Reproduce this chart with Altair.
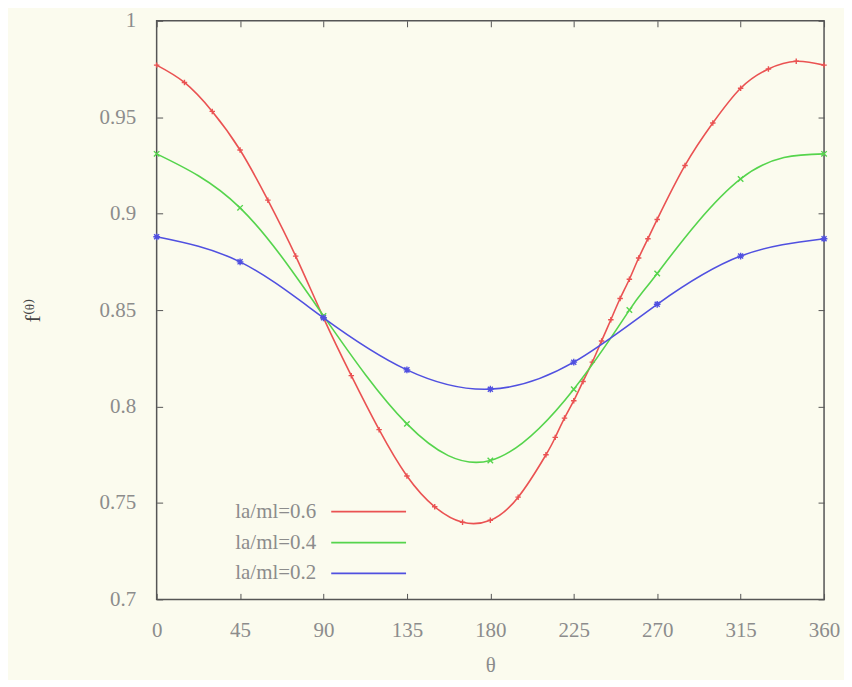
import altair as alt
import pandas as pd

# ---- data ----
theta_red = [0, 15, 30, 45, 60, 75, 90, 105, 120, 135, 150, 165, 180, 195, 210,
             215, 220, 225, 230, 235, 240, 245, 250, 255, 260, 265, 270,
             285, 300, 315, 330, 345, 360]
f_red = [0.977, 0.968, 0.953, 0.933, 0.907, 0.878, 0.846, 0.816, 0.788, 0.764, 0.748, 0.740, 0.741, 0.753, 0.775,
         0.784, 0.794, 0.803, 0.813, 0.823, 0.834, 0.845, 0.856, 0.866, 0.877, 0.887, 0.897,
         0.925, 0.947, 0.965, 0.975, 0.979, 0.977]

theta_green = [0, 45, 90, 135, 180, 225, 255, 270, 315, 360]
f_green = [0.931, 0.903, 0.847, 0.791, 0.772, 0.809, 0.850, 0.869, 0.918, 0.931]

theta_blue = [0, 45, 90, 135, 180, 225, 270, 315, 360]
f_blue = [0.888, 0.875, 0.846, 0.819, 0.809, 0.823, 0.853, 0.878, 0.887]

legend_labels = ["la/ml=0.6", "la/ml=0.4", "la/ml=0.2"]
x_ticks = [0, 45, 90, 135, 180, 225, 270, 315, 360]
y_ticks = [0.7, 0.75, 0.8, 0.85, 0.9, 0.95, 1.0]

RED, GREEN, BLUE = "#ea5252", "#55d44c", "#5050e0"
GREY = "#8c8c8c"
FONT = "'Liberation Serif', 'Times New Roman', 'DejaVu Serif', serif"
FS = 21

PLUS = "M-1,0L1,0M0,-1L0,1"
XSHAPE = "M-1,-1L1,1M-1,1L1,-1"
STAR = "M-1,0L1,0M0,-1L0,1M-0.75,-0.75L0.75,0.75M-0.75,0.75L0.75,-0.75"

xscale = alt.Scale(domain=[0, 360], nice=False, zero=False)
yscale = alt.Scale(domain=[0.7, 1.0], nice=False, zero=False)

bottom_axis = alt.Axis(values=x_ticks, orient="bottom", offset=-6, tickSize=6, domain=False,
                       grid=False, labelPadding=20, labelFont=FONT, labelFontSize=FS,
                       labelFlush=False, labelColor=GREY, tickColor="#555555", title="θ",
                       titleFont=FONT, titleFontSize=FS, titleColor=GREY,
                       titleFontWeight="normal", titlePadding=14)
left_axis = alt.Axis(values=y_ticks, orient="left", offset=-6, tickSize=6, domain=False,
                     grid=False, labelPadding=21, labelFont=FONT, labelFontSize=FS,
                     labelFlush=False, labelColor=GREY, tickColor="#555555", title="f⁽ᶿ⁾",
                     titleFont=FONT, titleFontSize=22, titleColor="#444444",
                     titleFontWeight="normal", titleX=-118, titleY=290, format="~g")
top_axis = alt.Axis(values=x_ticks, orient="top", offset=-6, tickSize=6, domain=False,
                    grid=False, labels=False, title=None, tickColor="#555555")
right_axis = alt.Axis(values=y_ticks, orient="right", offset=-6, tickSize=6, domain=False,
                      grid=False, labels=False, title=None, tickColor="#555555")


def series(thetas, vals, color, shape, size):
    df = pd.DataFrame({"theta": thetas, "f": vals})
    base = alt.Chart(df)
    line = base.mark_line(interpolate="natural", color=color, strokeWidth=1.6).encode(
        x=alt.X("theta:Q", scale=xscale, axis=bottom_axis),
        y=alt.Y("f:Q", scale=yscale, axis=left_axis),
    )
    pts = base.mark_point(shape=shape, filled=False, color=color, size=size,
                          strokeWidth=1.4, opacity=1).encode(
        x=alt.X("theta:Q", scale=xscale, axis=top_axis),
        y=alt.Y("f:Q", scale=yscale, axis=right_axis),
    )
    return line + pts


layers = [
    series(theta_red, f_red, RED, PLUS, 30),
    series(theta_green, f_green, GREEN, XSHAPE, 30),
    series(theta_blue, f_blue, BLUE, STAR, 45),
]

colors = [RED, GREEN, BLUE]
leg_y = [492, 523, 554]
for lab, col, yy in zip(legend_labels, colors, leg_y):
    ldf = pd.DataFrame({"label": [lab]})
    txt = alt.Chart(ldf).mark_text(align="right", baseline="middle", font=FONT,
                                   fontSize=FS, color=GREY).encode(
        x=alt.value(160), y=alt.value(yy), text="label:N")
    rule = alt.Chart(ldf).mark_rule(color=col, strokeWidth=1.8).encode(
        x=alt.value(175), x2=alt.value(250), y=alt.value(yy))
    layers += [txt, rule]

chart = alt.layer(*layers).properties(
    width=669, height=580,
    autosize=alt.AutoSizeParams(type="none"),
    padding={"left": 149, "top": 12, "right": 20, "bottom": 80},
    background="#fbfbee",
).configure_view(stroke="#555555", strokeWidth=1.5)

chart.save("out.html", embed_options={"renderer": "svg", "actions": False})
